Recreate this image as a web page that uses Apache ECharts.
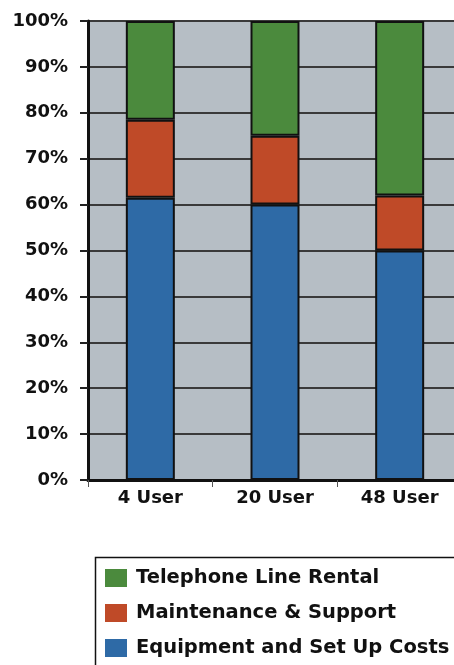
<!DOCTYPE html>
<html>
<head>
<meta charset="utf-8">
<script src="https://cdn.jsdelivr.net/npm/echarts@6/dist/echarts.min.js"></script>
<style>
html,body{margin:0;padding:0;background:#fff;}
#chart{width:454px;height:665px;}
</style>
</head>
<body>
<div id="chart"></div>
<script>
var categories = ['4 User', '20 User', '48 User'];
var equipment = [61.5, 60, 50];
var maintenance = [17, 15, 12];
var telephone = [21.5, 25, 38];
var seriesNames = ['Telephone Line Rental', 'Maintenance & Support', 'Equipment and Set Up Costs'];

var FONT = 'DejaVu Sans';
var chart = echarts.init(document.getElementById('chart'));
function barSeries(name, data, color) {
  return {
    name: name, type: 'bar', stack: 'total', data: data, barWidth: 49,
    itemStyle: { color: color, borderColor: '#111', borderWidth: 2 },
    emphasis: { disabled: true }
  };
}
chart.setOption({
  animation: false,
  backgroundColor: '#ffffff',
  grid: {
    left: 88, top: 21, width: 374, height: 459,
    outerBoundsMode: 'none', containLabel: false,
    show: true, backgroundColor: '#b6bec5', borderWidth: 0
  },
  xAxis: {
    type: 'category', data: categories,
    axisLine: { lineStyle: { color: '#111', width: 3 } },
    axisTick: { show: true, length: 7, lineStyle: { color: '#555', width: 1 } },
    axisLabel: { color: '#111', fontFamily: FONT, fontWeight: 'bold', fontSize: 18, margin: 9 }
  },
  yAxis: {
    type: 'value', min: 0, max: 100, interval: 10,
    axisLine: { show: true, lineStyle: { color: '#111', width: 3 } },
    axisTick: { show: true, length: 8, lineStyle: { color: '#222', width: 2 } },
    splitLine: { show: true, lineStyle: { color: '#3a3a3a', width: 2 } },
    axisLabel: { formatter: '{value}%', color: '#111', fontFamily: FONT, fontWeight: 'bold', fontSize: 18, margin: 20 }
  },
  graphic: [{
    type: 'rect', left: 93, top: 555,
    shape: { width: 420, height: 200 },
    style: { fill: 'none', stroke: '#111', lineWidth: 1.5 }
  }],
  legend: {
    data: seriesNames,
    orient: 'vertical', left: 105, top: 568, height: 120,
    padding: 0,
    itemWidth: 22, itemHeight: 18, itemGap: 15,
    icon: 'rect',
    itemStyle: { borderWidth: 0 },
    textStyle: { color: '#111', fontFamily: FONT, fontWeight: 'bold', fontSize: 19.5, padding: [0, 0, 0, 4] }
  },
  series: [
    barSeries(seriesNames[2], equipment, '#2e6aa6'),
    barSeries(seriesNames[1], maintenance, '#bf4a28'),
    barSeries(seriesNames[0], telephone, '#4b8a3d')
  ]
});
</script>
</body>
</html>
